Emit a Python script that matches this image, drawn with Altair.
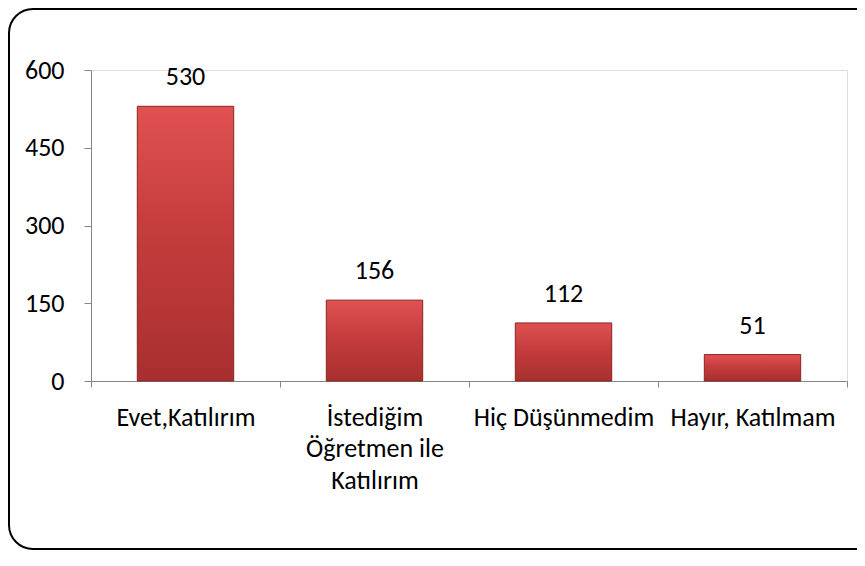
import altair as alt
import pandas as pd

categories = ["Evet,Katılırım", "İstediğim Öğretmen ile Katılırım", "Hiç Düşünmedim", "Hayır, Katılmam"]
values = [530, 156, 112, 51]
y_ticks = [0, 150, 300, 450, 600]

df = pd.DataFrame({"category": categories, "value": values})

W, H = 756, 311
FONT = "Carlito, Lato"
FS = 26

label_expr = ("datum.label == 'İstediğim Öğretmen ile Katılırım' ? "
              "['İstediğim', 'Öğretmen ile', 'Katılırım'] : datum.label")

x_enc = alt.X(
    "category:N",
    sort=categories,
    scale=alt.Scale(paddingInner=0, paddingOuter=0),
    axis=alt.Axis(
        title=None, labelAngle=0, tickBand="extent", labelExpr=label_expr,
        labelFont=FONT, labelFontSize=FS, labelColor="#000000",
        labelPadding=17, labelLineHeight=31.5, labelBaseline="top",
        domainColor="#868686", tickColor="#868686", tickSize=6,
        labelLimit=300,
    ),
)
y_enc = alt.Y(
    "value:Q",
    scale=alt.Scale(domain=[0, 600], nice=False),
    axis=alt.Axis(
        title=None, values=y_ticks, grid=False,
        labelFont=FONT, labelFontSize=FS, labelColor="#000000",
        labelPadding=20, domainColor="#868686", tickColor="#868686", tickSize=7,
    ),
)

bars = alt.Chart(df).mark_bar(
    width=alt.RelativeBandSize(0.51),
    fill=alt.Gradient(
        gradient="linear",
        stops=[
            alt.GradientStop(color="#e05252", offset=0),
            alt.GradientStop(color="#c83e3e", offset=0.4),
            alt.GradientStop(color="#a82f2f", offset=1),
        ],
        x1=0, x2=0, y1=0, y2=1,
    ),
    stroke="#8a2323",
    strokeWidth=1,
).encode(x=x_enc, y=y_enc)

texts = alt.Chart(df).mark_text(
    font=FONT, fontSize=FS, color="#000000", baseline="alphabetic", dy=-21
).encode(
    x=alt.X("category:N", sort=categories),
    y=alt.Y("value:Q"),
    text=alt.Text("value:Q"),
)

border = alt.Chart(alt.Data(values=[{"a": 1}])).mark_rect(
    fillOpacity=0, stroke="#000000", strokeWidth=2, cornerRadius=24
).encode(
    x=alt.value(-82), x2=alt.value(790),
    y=alt.value(-61), y2=alt.value(479),
)

chart = alt.layer(border, bars, texts).properties(
    width=W, height=H,
    padding={"left": 83, "top": 62, "right": 10, "bottom": 171},
    autosize=alt.AutoSizeParams(type="none"),
).configure_view(stroke=None).configure(background="#ffffff")

chart.save("out.html", embed_options={"renderer": "svg", "actions": False})
